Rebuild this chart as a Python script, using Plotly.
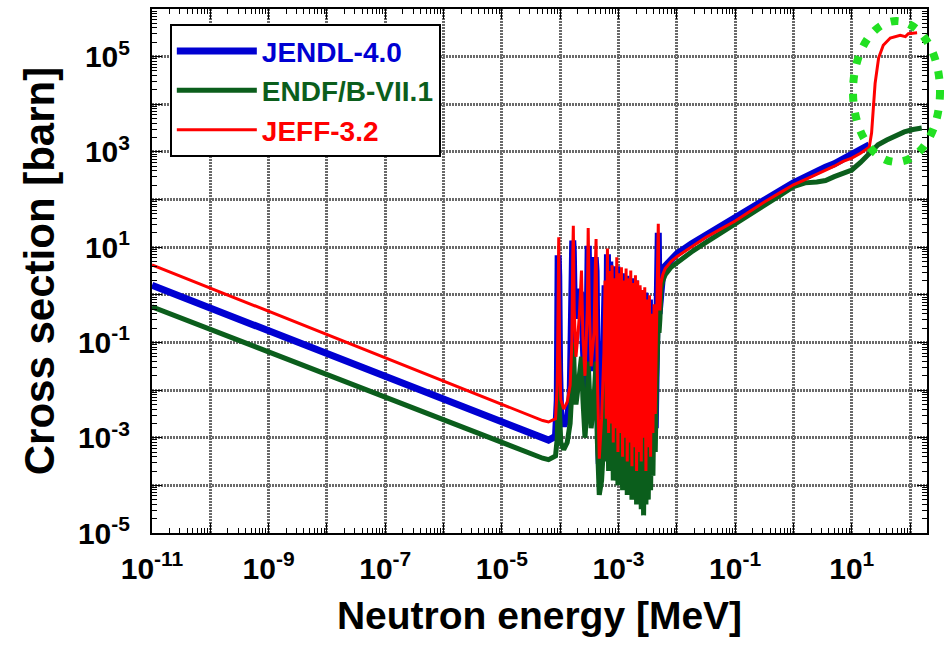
import numpy as np
import plotly.graph_objects as go

# ---------------- data (log10 of energy [MeV] and log10 of cross section [barn]) -------------
low_log_e = [-11, -8, -5, -4.5, -4.3, -4.2, -4.12]
jendl_low = [0.2, -1.25, -2.70, -2.94, -3.03, -3.05, -3.0]
endf_low = [-0.25, -1.68, -3.11, -3.35, -3.43, -3.46, -3.42]
jeff_low = [0.63, -0.84, -2.31, -2.55, -2.64, -2.67, -2.63]

res_log_e = [-4.08, -4.05, -4.035, -4.025, -4.01, -3.99, -3.94, -3.88, -3.83, -3.80,
             -3.785, -3.775, -3.76, -3.73, -3.70, -3.67, -3.635, -3.61, -3.575, -3.535,
             -3.52, -3.50, -3.47, -3.42, -3.40, -3.385, -3.365, -3.33, -3.29, -3.25,
             -3.23, -3.21, -3.19, -3.17, -3.15, -3.13, -3.11, -3.09, -3.07, -3.05,
             -3.03, -3.01, -2.99, -2.97, -2.95, -2.93, -2.91, -2.89, -2.87, -2.85,
             -2.83, -2.81, -2.79, -2.77, -2.75, -2.73, -2.71, -2.69, -2.67, -2.65,
             -2.63, -2.61, -2.59, -2.57, -2.55, -2.53, -2.51, -2.49, -2.47, -2.45,
             -2.43, -2.41, -2.39, -2.37, -2.35, -2.33, -2.318, -2.305]
jendl_res = [-2.95, -2.2, 0.83, 0.4, -1.6, -2.6, -2.75, -2.6, -2.2, -0.6,
             1.14, 0.9, -0.2, -0.5, 0.06, 0.06, 0.0, -1.0, -2.0, -0.5,
             1.03, -0.2, -1.6, -0.3, 0.79, 0.5, -1.8, -3.55, -3.2, -1.5,
             0.2, -2.9, 0.85, -3.1, 0.7, -3.0, 0.45, -3.3, 0.55, -3.1,
             0.6, -3.4, 0.3, -3.2, 0.45, -3.5, 0.2, -3.3, 0.4, -3.6,
             0.2, -3.4, 0.35, -3.7, 0.1, -3.5, 0.3, -3.8, 0.15, -3.6,
             0.05, -3.7, 0.0, -3.4, 0.05, -3.8, -0.2, -3.5, -0.1, -3.6,
             -0.5, -3.2, -0.3, -2.8, -0.9, 0.5, 1.3, -0.4]
endf_res = [-3.38, -3.0, -1.6, -1.3, -2.5, -3.1, -3.25, -3.1, -2.7, -2.0,
            -1.1, -1.0, -1.6, -2.3, -2.0, -1.6, -1.3, -2.2, -3.0, -2.2,
            -1.4, -2.0, -2.8, -2.2, -1.5, -1.4, -3.0, -4.2, -3.9, -3.0,
            -1.3, -3.5, -1.2, -3.7, -1.5, -3.6, -1.4, -3.9, -1.7, -3.7,
            -1.3, -4.0, -1.8, -3.8, -1.6, -4.1, -1.9, -3.9, -1.7, -4.2,
            -2.0, -4.0, -1.8, -4.3, -2.1, -4.1, -1.9, -4.4, -2.2, -4.2,
            -2.3, -4.5, -2.4, -4.63, -2.2, -4.4, -2.5, -4.3, -2.4, -4.1,
            -2.3, -3.8, -2.0, -3.3, -1.8, -1.0, -0.6, -0.8]
jeff_res = [-2.60, -1.9, 0.9, 1.21, -1.3, -2.2, -2.40, -2.25, -1.9, -1.0,
            0.8, 1.45, -0.3, -1.3, -0.9, -0.4, 0.51, -0.9, -1.7, -0.3,
            1.40, -0.3, -1.5, -0.8, 0.5, 1.17, -1.6, -3.44, -2.6, -1.2,
            0.3, -2.6, 0.97, -2.9, 0.5, -2.7, 0.62, -3.1, 0.35, -2.8,
            0.79, -3.3, 0.45, -2.9, 0.58, -3.4, 0.3, -3.0, 0.55, -3.5,
            0.35, -3.1, 0.51, -3.6, 0.25, -3.2, 0.41, -3.7, 0.3, -3.3,
            0.2, -3.5, 0.1, -3.0, 0.16, -3.7, -0.1, -3.2, -0.01, -3.4,
            -0.4, -2.9, -0.2, -2.5, -0.8, 0.6, 1.49, -0.3]

smooth_log_e = [-2.29, -2.27, -2.24, -2.2, -2.1, -2.0, -1.75, -1.5, -1.25, -1.0, -0.75,
                -0.5, -0.25, 0.0, 0.2, 0.4, 0.55, 0.7, 0.85, 1.0, 1.15, 1.3]
jendl_smooth = [-0.2, 0.3, 0.48, 0.6, 0.75, 0.86, 1.07, 1.26, 1.44, 1.61, 1.8,
                1.99, 2.17, 2.35, 2.48, 2.6, 2.68, 2.75, 2.85, 2.94, 3.04, 3.15]
endf_smooth = [-0.5, 0.15, 0.3, 0.42, 0.58, 0.68, 0.9, 1.1, 1.29, 1.47, 1.67,
               1.87, 2.07, 2.27, 2.35, 2.37, 2.40, 2.48, 2.55, 2.62, 2.78, 2.96]
jeff_smooth = [-0.3, 0.25, 0.43, 0.55, 0.7, 0.8, 1.01, 1.21, 1.38, 1.55, 1.75,
               1.95, 2.13, 2.31, 2.42, 2.53, 2.62, 2.7, 2.8, 2.87, 2.97, 3.1]

endf_tail_log_e = [1.45, 1.6, 1.75, 1.9, 2.05, 2.2]
endf_tail = [3.15, 3.25, 3.35, 3.42, 3.47, 3.5]
jeff_tail_log_e = [1.34, 1.37, 1.40, 1.46, 1.54, 1.66, 1.83, 1.92, 1.97, 2.12]
jeff_tail = [3.4, 3.88, 4.44, 4.97, 5.24, 5.39, 5.45, 5.42, 5.48, 5.5]

x_tick_exp = list(range(-11, 3))
y_tick_exp = list(range(-5, 7))

# ---------------- build series ----------------
def series(parts):
    le, ls = [], []
    for e, s in parts:
        if len(e) != len(s):
            raise ValueError("length mismatch")
        le += list(e)
        ls += list(s)
    return np.power(10.0, le), np.power(10.0, ls)

jendl_x, jendl_y = series([(low_log_e, jendl_low), (res_log_e, jendl_res),
                           (smooth_log_e, jendl_smooth)])
endf_x, endf_y = series([(low_log_e, endf_low), (res_log_e, endf_res),
                         (smooth_log_e, endf_smooth), (endf_tail_log_e, endf_tail)])
jeff_x, jeff_y = series([(low_log_e, jeff_low), (res_log_e, jeff_res),
                         (smooth_log_e, jeff_smooth), (jeff_tail_log_e, jeff_tail)])

BLUE = "#0000d2"
GREEN = "#0b5e1c"
RED = "#ff0000"

fig = go.Figure()
fig.add_trace(go.Scatter(x=jendl_x, y=jendl_y, mode="lines",
                         line=dict(color=BLUE, width=7),
                         name=f'<span style="color:{BLUE}">JENDL-4.0</span>'))
fig.add_trace(go.Scatter(x=endf_x, y=endf_y, mode="lines",
                         line=dict(color=GREEN, width=5),
                         name=f'<span style="color:{GREEN}">ENDF/B-VII.1</span>'))
fig.add_trace(go.Scatter(x=jeff_x, y=jeff_y, mode="lines",
                         line=dict(color=RED, width=3),
                         name=f'<span style="color:{RED}">JEFF-3.2</span>'))

def ticktext(exps):
    return [f"10<sup>{e}</sup>" if e % 2 != 0 else "" for e in exps]

axis_common = dict(
    type="log",
    showline=True, linecolor="black", linewidth=2, mirror="allticks",
    ticks="inside", ticklen=10, tickwidth=1, tickcolor="black",
    showgrid=True, gridcolor="#6a6a6a", gridwidth=3, griddash="2px,1px",
    minor=dict(ticks="inside", ticklen=5, tickwidth=1, tickcolor="black",
               dtick="D1", showgrid=False),
    tickfont=dict(family="Liberation Sans, Arial", size=30, color="black", weight="bold"),
    zeroline=False,
)

fig.update_xaxes(**axis_common,
                 range=[-11, 2.29],
                 tickvals=[10.0 ** e for e in x_tick_exp],
                 ticktext=ticktext(x_tick_exp),
                 ticklabelstandoff=8,
                 title=dict(text="Neutron energy [MeV]", standoff=18,
                            font=dict(family="Liberation Sans, Arial", size=39,
                                      color="black", weight="bold")))
fig.update_yaxes(**axis_common,
                 range=[-5, 6],
                 tickvals=[10.0 ** e for e in y_tick_exp],
                 ticktext=ticktext(y_tick_exp),
                 ticklabelstandoff=14,
                 title=dict(text="Cross section [barn]", standoff=10,
                            font=dict(family="Liberation Sans, Arial", size=42,
                                      color="black", weight="bold")))

fig.add_shape(type="circle", xref="paper", yref="paper",
              x0=0.9045, x1=1.0168, y0=0.708, y1=0.977,
              line=dict(color="#22e022", width=8, dash="8px,11px"))

fig.update_layout(
    width=948, height=645,
    margin=dict(l=152, r=21, t=9, b=112, autoexpand=False),
    paper_bgcolor="white", plot_bgcolor="white",
    showlegend=True,
    legend=dict(x=0.023, y=0.971, xanchor="left", yanchor="top",
                bgcolor="white", bordercolor="black", borderwidth=2,
                font=dict(family="Liberation Sans, Arial", size=28, weight="bold"),
                itemwidth=80, tracegroupgap=0),
)

fig.write_html("out.html")
